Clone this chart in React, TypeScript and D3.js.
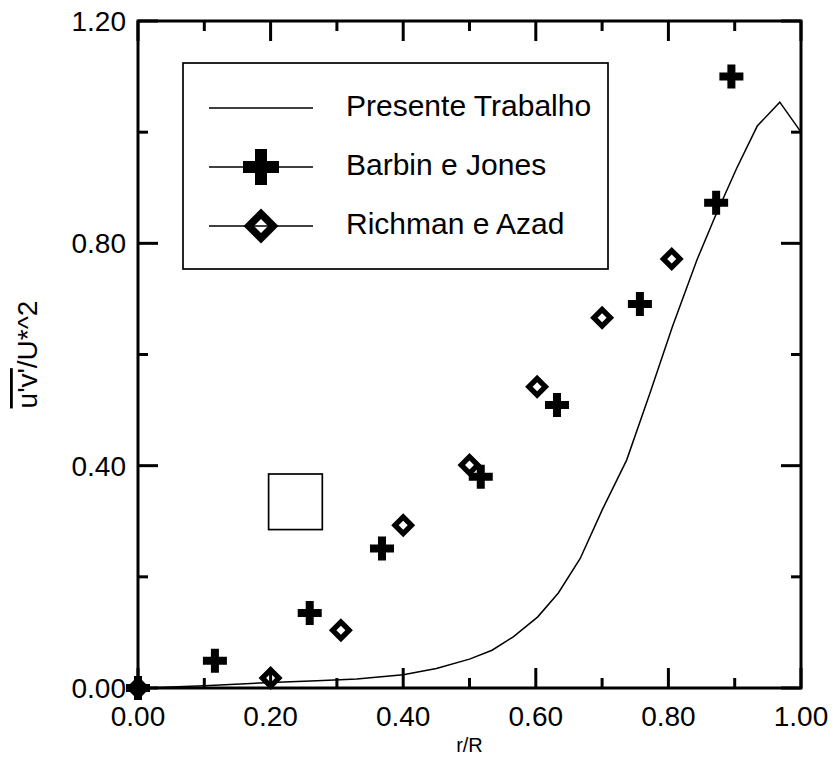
import React from "react";
import * as d3 from "d3";

// Presente Trabalho (line)
const curveR = [0, 0.03, 0.1, 0.2, 0.27, 0.33, 0.4, 0.45, 0.5, 0.534, 0.566, 0.603, 0.634, 0.667, 0.7, 0.737, 0.772, 0.806, 0.843, 0.87, 0.903, 0.934, 0.968, 1.0];
const curveV = [0, 0.001, 0.004, 0.01, 0.013, 0.016, 0.024, 0.035, 0.052, 0.068, 0.092, 0.128, 0.171, 0.233, 0.32, 0.41, 0.53, 0.65, 0.77, 0.847, 0.935, 1.011, 1.054, 1.0];

// Barbin e Jones (plus markers)
const barbinR = [0, 0.116, 0.259, 0.368, 0.517, 0.632, 0.757, 0.872, 0.895];
const barbinV = [0, 0.049, 0.135, 0.251, 0.38, 0.509, 0.691, 0.873, 1.1];

// Richman e Azad (diamond markers)
const richmanR = [0, 0.2, 0.306, 0.4, 0.5, 0.602, 0.7, 0.805];
const richmanV = [0, 0.018, 0.104, 0.293, 0.401, 0.542, 0.666, 0.772];

const xTickLabels = ["0.00", "0.20", "0.40", "0.60", "0.80", "1.00"];
const yTickLabels = ["0.00", "0.40", "0.80", "1.20"];
const legendLabels = ["Presente Trabalho", "Barbin e Jones", "Richman e Azad"];

const W = 836;
const H = 761;
const FONT = "'Liberation Sans', Arial, sans-serif";

const x = d3.scaleLinear().domain([0, 1]).range([138, 801]);
const y = d3.scaleLinear().domain([0, 1.2]).range([688, 21]);

function plusPath(s: number) {
  // s = half-length, arm half-thickness = s/3
  const t = s / 3;
  return `M${-t},${-s}H${t}V${-t}H${s}V${t}H${t}V${s}H${-t}V${t}H${-s}V${-t}H${-t}Z`;
}
function diamondPath(r: number, h: number) {
  return `M0,${-r}L${r},0L0,${r}L${-r},0Z M0,${-h}L${-h},0L0,${h}L${h},0Z`;
}

export default function App() {
  const line = d3
    .line<number>()
    .x((_, i) => x(curveR[i]))
    .y((d) => y(d));
  const xTicks = d3.range(0, 11).map((i) => i / 10);
  const yTicks = d3.range(0, 7).map((i) => i / 5);

  const legX1 = 209;
  const legX2 = 313;
  const legRows = [108, 167, 226];

  return (
    <div style={{ position: "absolute", left: 0, top: 0 }}>
      <svg width={W} height={H} style={{ display: "block", background: "#fff" }}>
        <rect x={0} y={0} width={W} height={H} fill="#fff" />
        {/* curve */}
        <path d={line(curveV) || ""} fill="none" stroke="#000" strokeWidth={1.5} />
        {/* diamonds */}
        {richmanR.map((r, i) => (
          <path
            key={"d" + i}
            d={diamondPath(12, 4.5)}
            transform={`translate(${x(r)},${y(richmanV[i])})`}
            fill="#000"
            fillRule="evenodd"
          />
        ))}
        {/* pluses */}
        {barbinR.map((r, i) => (
          <path
            key={"p" + i}
            d={plusPath(12)}
            transform={`translate(${x(r)},${y(barbinV[i])})`}
            fill="#000"
          />
        ))}
        {/* empty square annotation */}
        <rect x={x(0.197)} y={y(0.385)} width={x(0.278) - x(0.197)} height={y(0.285) - y(0.385)} fill="none" stroke="#000" strokeWidth={1.7} />
        {/* frame */}
        <rect x={x(0)} y={y(1.2)} width={x(1) - x(0)} height={y(0) - y(1.2)} fill="none" stroke="#000" strokeWidth={3} />
        {/* x ticks bottom & top */}
        {xTicks.map((t, i) => {
          const len = i % 2 === 0 ? 20 : 10;
          return (
            <g key={"xt" + i} stroke="#000" strokeWidth={3}>
              <line x1={x(t)} x2={x(t)} y1={y(0)} y2={y(0) - len} />
              <line x1={x(t)} x2={x(t)} y1={y(1.2)} y2={y(1.2) + len} />
            </g>
          );
        })}
        {yTicks.map((t, i) => {
          const len = i % 2 === 0 ? 20 : 10;
          return (
            <g key={"yt" + i} stroke="#000" strokeWidth={3}>
              <line x1={x(0)} x2={x(0) + len} y1={y(t)} y2={y(t)} />
              <line x1={x(1)} x2={x(1) - len} y1={y(t)} y2={y(t)} />
            </g>
          );
        })}
        {/* tick labels */}
        {xTickLabels.map((lab, i) => (
          <text key={"xl" + i} x={x(i * 0.2)} y={726} textAnchor="middle" fontFamily={FONT} fontSize={28} fill="#000">
            {lab}
          </text>
        ))}
        {yTickLabels.map((lab, i) => (
          <text key={"yl" + i} x={126} y={y(i * 0.4)} dy="0.36em" textAnchor="end" fontFamily={FONT} fontSize={28} fill="#000">
            {lab}
          </text>
        ))}
        {/* axis titles */}
        <text x={(x(0) + x(1)) / 2} y={752} textAnchor="middle" fontFamily={FONT} fontSize={20} fill="#000">
          r/R
        </text>
        <text
          transform={`translate(37,${(y(0) + y(1.2)) / 2}) rotate(-90)`}
          textAnchor="middle"
          fontFamily={FONT}
          fontSize={28}
          fill="#000"
        >
          <tspan textDecoration="overline" style={{ textDecoration: "overline" }}>u'v'</tspan>
          <tspan>/U*^2</tspan>
        </text>
        {/* legend */}
        <rect x={183} y={63} width={608 - 183} height={269 - 63} fill="#fff" stroke="#000" strokeWidth={1.7} />
        {legendLabels.map((lab, i) => (
          <g key={"lg" + i}>
            <line x1={legX1} x2={legX2} y1={legRows[i]} y2={legRows[i]} stroke="#000" strokeWidth={1.3} />
            {i === 1 && <path d={plusPath(18)} transform={`translate(${(legX1 + legX2) / 2},${legRows[i]})`} fill="#000" />}
            {i === 2 && (
              <path d={diamondPath(17.5, 7)} transform={`translate(${(legX1 + legX2) / 2},${legRows[i]})`} fill="#000" fillRule="evenodd" />
            )}
            <text x={346} y={legRows[i] + 7.5} fontFamily={FONT} fontSize={30} fill="#000">
              {lab}
            </text>
          </g>
        ))}
      </svg>
    </div>
  );
}
